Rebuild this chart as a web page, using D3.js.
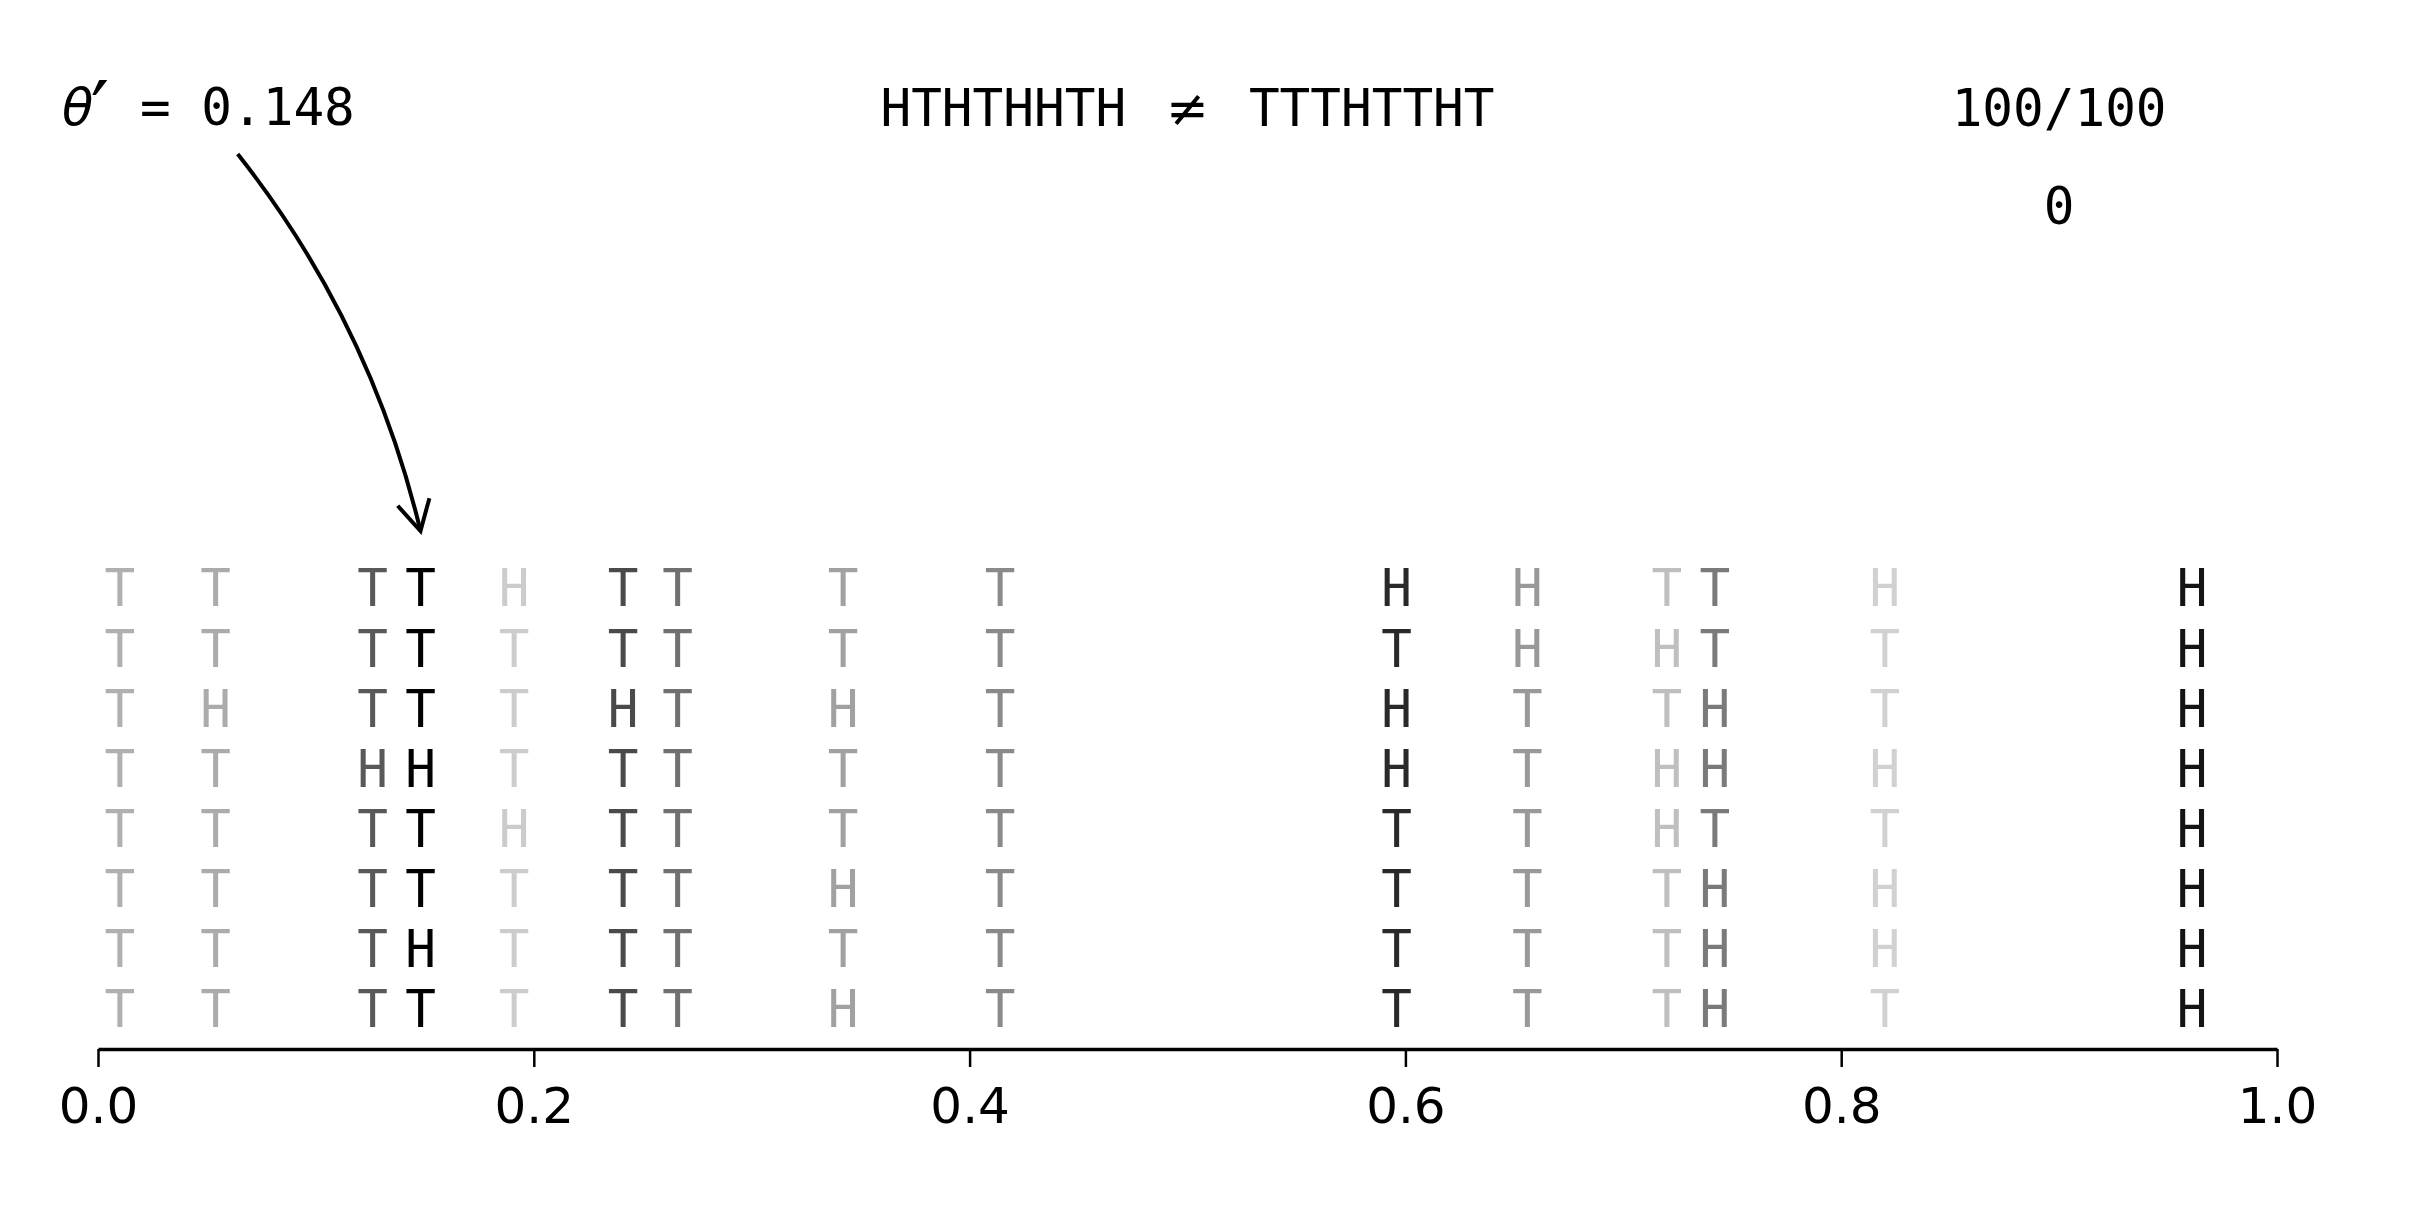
<!DOCTYPE html>
<html>
<head>
<meta charset="utf-8">
<script src="https://cdn.jsdelivr.net/npm/d3@7"></script>
<style>
  html, body { margin: 0; padding: 0; background: #fff; }
  svg { display: block; }
  .mono { font-family: "DejaVu Sans Mono", monospace; }
  .axis text { font-family: "DejaVu Sans", sans-serif; }
</style>
</head>
<body>
<svg id="chart"></svg>
<script>
// candidate theta values (one column of flips each)
const thetas = [0.010, 0.054, 0.126, 0.148, 0.191, 0.241, 0.266, 0.342, 0.414, 0.596, 0.656, 0.720, 0.742, 0.820, 0.961];
// simulated flip sequences, read top to bottom
const flips = ["TTTTTTTT", "TTHTTTTT", "TTTHTTTT", "TTTHTTHT", "HTTTHTTT", "TTHTTTTT", "TTTTTTTT", "TTHTTHTH",
               "TTTTTTTT", "HTHHTTTT", "HHTTTTTT", "THTHHTTT", "TTHHTHHH", "HTTHTHHT", "HHHHHHHH"];
// opacity of each column
const shades = [0.31, 0.33, 0.65, 1.0, 0.20, 0.71, 0.56, 0.37, 0.46, 0.84, 0.40, 0.25, 0.52, 0.18, 0.92];
const xTicks = [0, 0.2, 0.4, 0.6, 0.8, 1.0];

const observed = "HTHTHHTH";
const proposal = "TTTHTTHT";
const thetaPrime = 0.148;
const progress = "100/100";
const accepted = "0";

const W = 2412, H = 1228;
const fs = 51;
const cell = 0.602 * fs;   // mono advance
const axisY = 1049;

const svg = d3.select('#chart').attr('width', W).attr('height', H);

const x = d3.scaleLinear().domain([0, 1]).range([98, 2277]);
const y = d3.scalePoint().domain(d3.range(8)).range([588, 1009]);

// bottom axis
const axis = svg.append('g')
    .attr('class', 'axis')
    .attr('transform', `translate(0,${axisY})`)
    .call(d3.axisBottom(x)
        .tickValues(xTicks)
        .tickFormat(d3.format('.1f'))
        .tickSize(18)
        .tickSizeOuter(0)
        .tickPadding(20));
axis.select('.domain').attr('stroke', '#000').attr('stroke-width', 3.5);
axis.selectAll('.tick line').attr('stroke', '#000').attr('stroke-width', 2.5);
axis.selectAll('.tick text').attr('font-size', 50).attr('fill', '#000');

// columns of flips
const cols = svg.append('g').attr('class', 'flips')
    .selectAll('g')
    .data(thetas.map((t, i) => ({ t, seq: flips[i].split(''), a: shades[i] })))
    .join('g')
    .attr('fill-opacity', d => d.a);

cols.selectAll('text')
    .data(d => d.seq.map((c, j) => ({ c, j, t: d.t })))
    .join('text')
    .attr('class', 'mono')
    .attr('x', d => x(d.t))
    .attr('y', d => y(d.j))
    .attr('dy', '0.36em')
    .attr('text-anchor', 'middle')
    .attr('font-size', fs)
    .attr('fill', '#000')
    .text(d => d.c);

// header: observed != proposal
const cx = x(0.5);
const title = svg.append('text')
    .attr('class', 'mono')
    .attr('y', 126)
    .attr('font-size', fs)
    .attr('fill', '#000');
title.append('tspan').attr('x', cx - 2 * cell).attr('text-anchor', 'end').text(observed);
title.append('tspan').attr('x', cx).attr('text-anchor', 'middle')
    .attr('font-family', '"DejaVu Sans", sans-serif').text('≠');
title.append('tspan').attr('x', cx + 2 * cell).attr('text-anchor', 'start').text(proposal);

// counters on the right
svg.append('text')
    .attr('class', 'mono')
    .attr('x', x(0.9)).attr('y', 126)
    .attr('text-anchor', 'middle')
    .attr('font-size', fs)
    .text(progress);
svg.append('text')
    .attr('class', 'mono')
    .attr('x', x(0.9)).attr('y', 224)
    .attr('text-anchor', 'middle')
    .attr('font-size', fs)
    .text(accepted);

// theta' label
const label = svg.append('text')
    .attr('x', 62).attr('y', 125)
    .attr('font-size', fs)
    .attr('fill', '#000');
label.append('tspan')
    .attr('font-family', '"DejaVu Sans", sans-serif')
    .attr('font-style', 'italic')
    .text('θ');
label.append('tspan')
    .attr('font-family', '"DejaVu Sans", sans-serif')
    .attr('font-size', fs * 1.6)
    .attr('dx', -fs * 0.05)
    .attr('dy', fs * 0.3)
    .text('′');
label.append('tspan')
    .attr('class', 'mono')
    .attr('dy', -fs * 0.3)
    .text(' = ' + thetaPrime.toFixed(3));

// curved arrow from label to the proposal column
const bb = label.node().getBBox();
const p0 = [bb.x + bb.width * 0.6, 125 + 29];
const p2 = [x(thetaPrime), y(0) - 57];
const rad = 0.11;
const ctrl = [(p0[0] + p2[0]) / 2 + rad * (p2[1] - p0[1]), (p0[1] + p2[1]) / 2 - rad * (p2[0] - p0[0])];

svg.append('path')
    .attr('d', `M${p0[0]},${p0[1]} Q${ctrl[0]},${ctrl[1]} ${p2[0]},${p2[1]}`)
    .attr('fill', 'none')
    .attr('stroke', '#000')
    .attr('stroke-width', 4);

// open arrow head along end tangent
const ang = Math.atan2(p2[1] - ctrl[1], p2[0] - ctrl[0]);
const headLen = 34, headAng = 0.5;
const h1 = [p2[0] - headLen * Math.cos(ang - headAng), p2[1] - headLen * Math.sin(ang - headAng)];
const h2 = [p2[0] - headLen * Math.cos(ang + headAng), p2[1] - headLen * Math.sin(ang + headAng)];
svg.append('path')
    .attr('d', `M${h1[0]},${h1[1]} L${p2[0]},${p2[1]} L${h2[0]},${h2[1]}`)
    .attr('fill', 'none')
    .attr('stroke', '#000')
    .attr('stroke-width', 4)
    .attr('stroke-linejoin', 'miter');
</script>
</body>
</html>
